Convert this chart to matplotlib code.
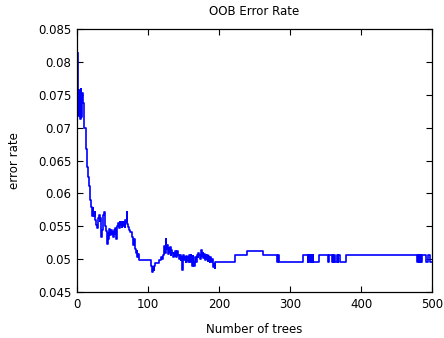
import matplotlib
matplotlib.use("Agg")
import matplotlib.pyplot as plt
from matplotlib.ticker import FuncFormatter

# out-of-bag error after each tree (tree index where a value starts, value)
trees = [
    1, 2, 3, 4, 5, 6, 7, 8, 10, 12, 13, 14, 15, 16, 17, 18, 19, 20,
    21, 22, 23, 24, 25, 26, 27, 28, 29, 30, 31, 32, 33, 34, 35, 36, 37, 38, 39, 40,
    41, 42, 43, 44, 45, 46, 47, 48, 49, 50, 51, 52, 53, 54, 55, 56, 57, 58, 59, 60,
    61, 62, 63, 64, 65, 66, 67, 68, 69, 70, 71, 72, 73, 74, 78, 79, 80,
    81, 82, 83, 84, 85, 86, 87, 88, 104, 105, 106, 107, 108, 109, 110, 115, 119, 120,
    121, 122, 123, 124, 125, 126, 127, 128, 129, 130, 131, 132, 133, 134, 135, 136, 137, 138, 139, 140,
    141, 142, 143, 144, 145, 146, 147, 148, 149, 150, 151, 152, 153, 154, 155, 156, 157, 158, 159, 160,
    161, 162, 163, 164, 165, 166, 167, 168, 169, 170, 171, 172, 173, 174, 175, 176, 177, 178, 179, 180,
    181, 182, 183, 184, 185, 186, 187, 188, 189, 190, 191, 192, 193, 194, 195, 196,
    222, 240, 262, 282, 283, 284, 285, 318, 325, 326, 327, 328, 329, 330, 331, 332, 333, 334,
    341, 353, 355, 359, 360, 361, 362, 363, 366, 367, 368, 370, 379,
    479, 480, 481, 482, 483, 484, 485, 486, 487, 492, 494, 497, 499,
]
oob_error = [
    0.0814, 0.0718, 0.0757, 0.0713, 0.0759, 0.0716, 0.0752, 0.0738, 0.0700, 0.0672, 0.0668, 0.0640, 0.0635, 0.0625, 0.0612, 0.0605, 0.0590, 0.0580,
    0.0566, 0.0578, 0.0572, 0.0565, 0.0572, 0.0559, 0.0552, 0.0547, 0.0555, 0.0562, 0.0567, 0.0558, 0.0562, 0.0533, 0.0545, 0.0550, 0.0567, 0.0571, 0.0560, 0.0551,
    0.0543, 0.0523, 0.0540, 0.0530, 0.0546, 0.0541, 0.0536, 0.0545, 0.0538, 0.0541, 0.0533, 0.0545, 0.0538, 0.0548, 0.0531, 0.0538, 0.0550, 0.0555, 0.0547, 0.0556,
    0.0552, 0.0556, 0.0549, 0.0557, 0.0550, 0.0556, 0.0549, 0.0560, 0.0556, 0.0572, 0.0553, 0.0549, 0.0545, 0.0541, 0.0533, 0.0522, 0.0530,
    0.0518, 0.0515, 0.0509, 0.0512, 0.0504, 0.0508, 0.0503, 0.0499, 0.0490, 0.0485, 0.0480, 0.0488, 0.0483, 0.0490, 0.0494, 0.0498, 0.0503, 0.0500,
    0.0507, 0.0512, 0.0520, 0.0510, 0.0530, 0.0515, 0.0522, 0.0508, 0.0517, 0.0511, 0.0519, 0.0507, 0.0514, 0.0509, 0.0503, 0.0510, 0.0505, 0.0512, 0.0506, 0.0503,
    0.0512, 0.0507, 0.0503, 0.0500, 0.0506, 0.0498, 0.0504, 0.0483, 0.0500, 0.0506, 0.0498, 0.0504, 0.0496, 0.0505, 0.0498, 0.0503, 0.0496, 0.0506, 0.0496, 0.0506,
    0.0498, 0.0489, 0.0505, 0.0496, 0.0490, 0.0504, 0.0500, 0.0496, 0.0507, 0.0503, 0.0510, 0.0506, 0.0500, 0.0510, 0.0514, 0.0505, 0.0510, 0.0502, 0.0508, 0.0498,
    0.0507, 0.0500, 0.0506, 0.0497, 0.0505, 0.0500, 0.0495, 0.0503, 0.0496, 0.0500, 0.0495, 0.0488, 0.0492, 0.0487, 0.0495, 0.0496,
    0.0506, 0.0512, 0.0506, 0.0496, 0.0506, 0.0496, 0.0496, 0.0506, 0.0496, 0.0506, 0.0496, 0.0506, 0.0496, 0.0506, 0.0496, 0.0506, 0.0496, 0.0496,
    0.0506, 0.0496, 0.0506, 0.0496, 0.0506, 0.0496, 0.0506, 0.0496, 0.0506, 0.0496, 0.0506, 0.0496, 0.0506,
    0.0496, 0.0506, 0.0496, 0.0506, 0.0496, 0.0506, 0.0496, 0.0506, 0.0506, 0.0496, 0.0506, 0.0496, 0.0496,
]

x_ticks = [0, 100, 200, 300, 400, 500]
y_ticks = [0.045, 0.05, 0.055, 0.06, 0.065, 0.07, 0.075, 0.08, 0.085]

plt.rcParams['font.family'] = ['DejaVu Sans']
plt.rcParams['font.size'] = 8.5

fig = plt.figure(figsize=(4.44, 3.38), dpi=100)
ax = fig.add_axes([0.1734, 0.136, 0.7996, 0.778])

ax.step(trees + [500], oob_error + [oob_error[-1]], where='post', color='#0000ff', linewidth=1.2)

ax.set_xlim(0, 500)
ax.set_ylim(0.045, 0.085)
ax.set_xticks(x_ticks)
ax.set_yticks(y_ticks)
ax.yaxis.set_major_formatter(FuncFormatter(lambda v, pos: '%g' % round(v, 4)))
ax.tick_params(direction='in', top=True, right=True, length=4, width=0.8, labelsize=8.5, pad=4)
for spine in ax.spines.values():
    spine.set_linewidth(0.9)

ax.set_title('OOB Error Rate', fontsize=8.5, pad=10)
ax.set_xlabel('Number of trees', fontsize=8.5, labelpad=9)
ax.set_ylabel('error rate', fontsize=8.5, labelpad=12)

fig.savefig('out.png', dpi=100, facecolor='white')
